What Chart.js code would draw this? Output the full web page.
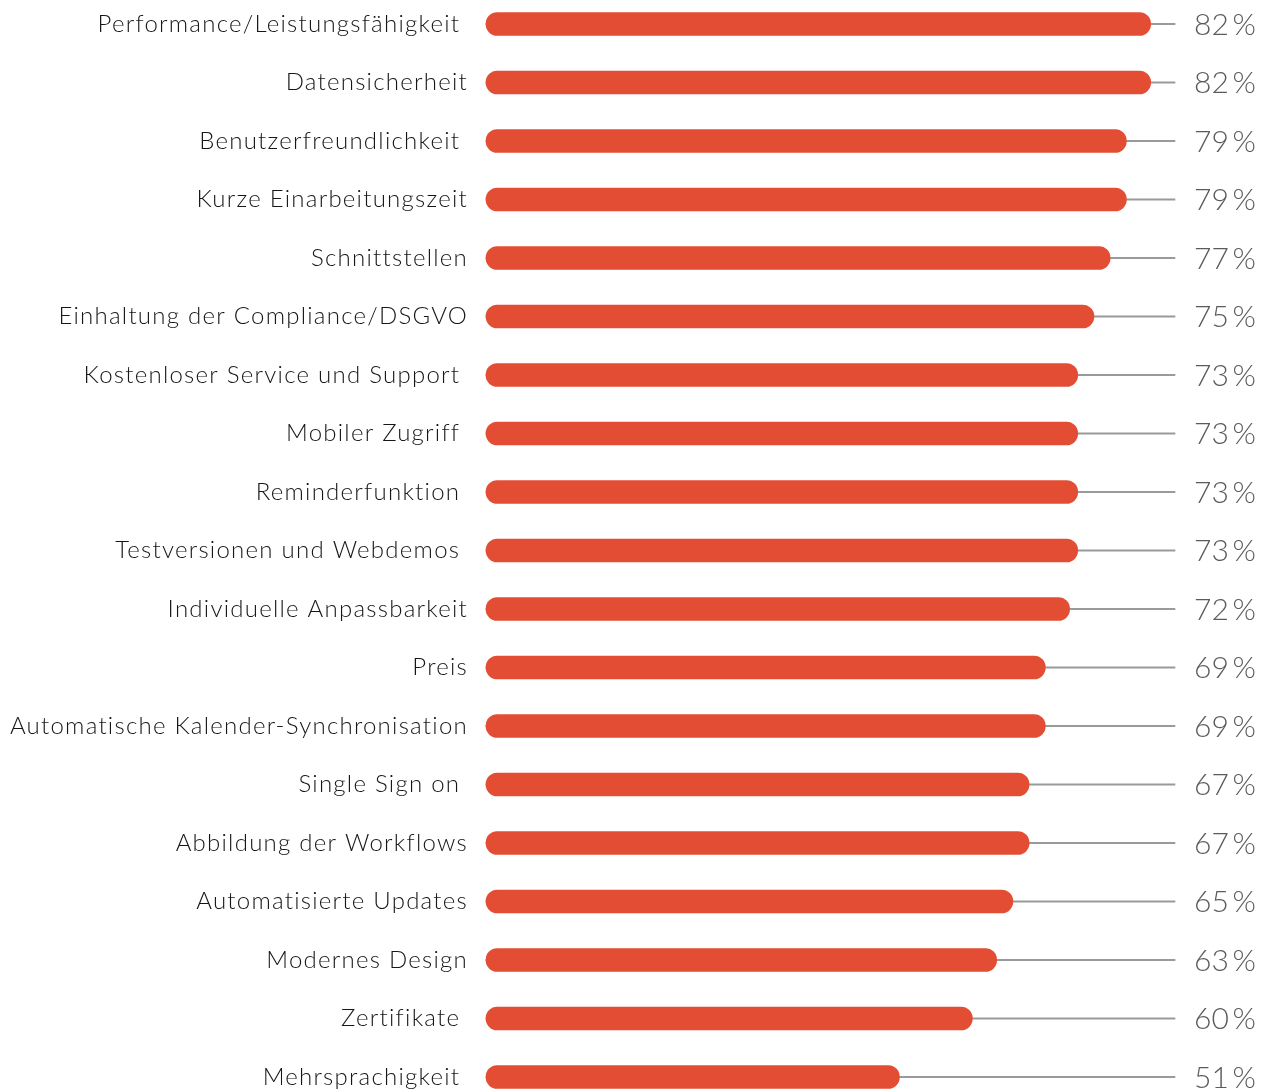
<!DOCTYPE html>
<html>
<head>
<meta charset="utf-8">
<script src="https://cdn.jsdelivr.net/npm/chart.js@4"></script>
<style>
  html, body { margin: 0; padding: 0; background: #fff; }
  canvas { display: block; }
</style>
</head>
<body>
<canvas id="featureChart" width="1267" height="1091"></canvas>
<script>
// categories (trailing spaces kept as in the original labels)
const categories = [
  'Performance/Leistungsfähigkeit ',
  'Datensicherheit',
  'Benutzerfreundlichkeit ',
  'Kurze Einarbeitungszeit',
  'Schnittstellen',
  'Einhaltung der Compliance/DSGVO',
  'Kostenloser Service und Support ',
  'Mobiler Zugriff ',
  'Reminderfunktion ',
  'Testversionen und Webdemos ',
  'Individuelle Anpassbarkeit',
  'Preis',
  'Automatische Kalender-Synchronisation',
  'Single Sign on ',
  'Abbildung der Workflows',
  'Automatisierte Updates',
  'Modernes Design',
  'Zertifikate ',
  'Mehrsprachigkeit '
];
const percentValues = [82, 82, 79, 79, 77, 75, 73, 73, 73, 73, 72, 69, 69, 67, 67, 65, 63, 60, 51];
const axisMax = 85;
const trackValues = categories.map(() => axisMax);

// slightly spaced lettering like the original
const letterSpacing = {
  id: 'letterSpacing',
  beforeLayout(chart) { chart.ctx.letterSpacing = '1.25px'; },
  beforeDraw(chart) { chart.ctx.letterSpacing = '1.25px'; }
};

// value labels on the right
const valueLabels = {
  id: 'valueLabels',
  afterDatasetsDraw(chart) {
    const ctx = chart.ctx;
    const meta = chart.getDatasetMeta(0);
    ctx.save();
    ctx.letterSpacing = '0px';
    ctx.font = '300 30px Lato';
    ctx.fillStyle = '#5b5b5b';
    ctx.textAlign = 'right';
    ctx.textBaseline = 'middle';
    meta.data.forEach((bar, i) => {
      ctx.fillText(percentValues[i] + '\u2009%', chart.width - 11, bar.y + 1);
    });
    ctx.restore();
  }
};

const config = {
  type: 'bar',
  data: {
    labels: categories,
    datasets: [
      {
        data: percentValues,
        backgroundColor: '#e34d33',
        borderRadius: 12,
        borderSkipped: false,
        barThickness: 23,
        grouped: false,
        clip: false,
        order: 0
      },
      {
        data: trackValues,
        backgroundColor: '#9a9a9a',
        barThickness: 1.5,
        grouped: false,
        clip: false,
        order: 1
      }
    ]
  },
  options: {
    indexAxis: 'y',
    responsive: false,
    animation: false,
    layout: { padding: { top: 24, bottom: 14, right: 92, left: 0 } },
    plugins: {
      legend: { display: false },
      tooltip: { enabled: false }
    },
    scales: {
      x: {
        display: false,
        min: 0,
        max: axisMax
      },
      y: {
        offset: false,
        grid: { display: false, drawTicks: false },
        border: { display: false },
        ticks: {
          padding: 18,
          color: '#161616',
          font: { family: 'Lato', size: 24, weight: '300' }
        },
        afterFit(scale) {
          scale.width = 486;
          scale.paddingTop = 0;
          scale.paddingBottom = 0;
        }
      }
    }
  },
  plugins: [letterSpacing, valueLabels]
};

new Chart(document.getElementById('featureChart'), config);
</script>
</body>
</html>
